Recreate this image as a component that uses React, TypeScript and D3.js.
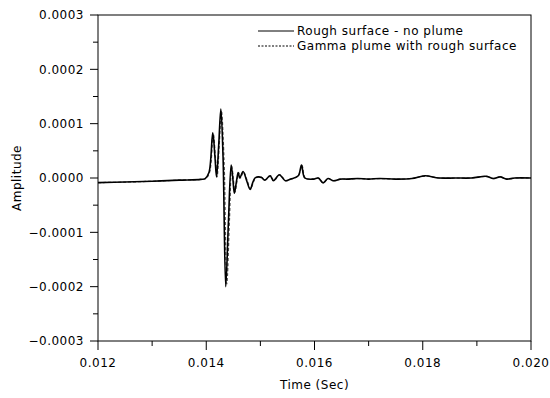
import React from "react";
import * as d3 from "d3";

// Solid series: Rough surface - no plume
const timeRough = [
  0.012, 0.0125, 0.013, 0.0135, 0.0139, 0.01398, 0.01405, 0.01412, 0.01416, 0.01419,
  0.01423, 0.01427, 0.01431, 0.01436, 0.01441, 0.01446, 0.01449, 0.01452, 0.01456, 0.01459,
  0.01462, 0.01468, 0.01475, 0.01481, 0.01486, 0.0149, 0.01496, 0.01502, 0.01508, 0.01518,
  0.01524, 0.01535, 0.01546, 0.01556, 0.0157, 0.01576, 0.01582, 0.01598, 0.01607, 0.01616,
  0.01625, 0.01635, 0.01648, 0.0166, 0.0168, 0.017, 0.0172, 0.0175, 0.0178, 0.01804,
  0.0183, 0.0186, 0.0189, 0.01918, 0.0193, 0.01943, 0.01955, 0.0197, 0.02,
];
const ampRough = [
  -0.0000085, -0.0000075, -0.000006, -0.000004, -0.0000025, -0.000001, 0.00001, 0.000083, 0.00004, 0.000002,
  0.00006, 0.000127, 0.00004, -0.0002, -0.00008, 0.000024, 0.0, -0.000028, -0.000005, 0.00001,
  0.0, 0.000012, -0.000006, -0.000021, -0.000008, 0.0, 0.000002, 0.000001, -0.000004, 0.000004,
  -0.000005, 0.000006, -0.000005, -0.000002, 0.000004, 0.000024, 0.0, -0.000002, 0.0, -0.000009,
  -0.000001, -0.000005, -0.000002, -0.000002, -0.000001, -0.000002, -0.000001, -0.000002, -0.000001, 0.000004,
  0.0, 0.0, 0.0, 0.000003, -0.000001, 0.000002, -0.000002, 0.0, 0.0,
];

// Dashed series: Gamma plume with rough surface
const timeGamma = [
  0.012, 0.0125, 0.013, 0.0135, 0.0139, 0.01399, 0.01406, 0.01413, 0.01417, 0.0142,
  0.01424, 0.01428, 0.01433, 0.01438, 0.01443, 0.01447, 0.0145, 0.01453, 0.01457, 0.0146,
  0.01463, 0.01469, 0.01476, 0.01482, 0.01487, 0.01491, 0.01497, 0.01503, 0.01509, 0.01519,
  0.01525, 0.01536, 0.01547, 0.01557, 0.0157, 0.01577, 0.01583, 0.01598, 0.01607, 0.01616,
  0.01625, 0.01635, 0.01648, 0.0166, 0.0168, 0.017, 0.0172, 0.0175, 0.0178, 0.01804,
  0.0183, 0.0186, 0.0189, 0.01918, 0.0193, 0.01943, 0.01955, 0.0197, 0.02,
];
const ampGamma = [
  -0.0000085, -0.0000075, -0.000006, -0.000004, -0.0000025, -0.000001, 0.00001, 0.000081, 0.000038, 0.000002,
  0.00006, 0.000124, 0.00003, -0.000195, -0.000075, 0.000022, 0.0, -0.000026, -0.000005, 0.00001,
  0.0, 0.000011, -0.000006, -0.00002, -0.000008, 0.0, 0.000002, 0.000001, -0.000004, 0.000004,
  -0.000005, 0.000006, -0.000005, -0.000002, 0.000004, 0.000023, 0.0, -0.000002, 0.0, -0.000009,
  -0.000001, -0.000005, -0.000002, -0.000002, -0.000001, -0.000002, -0.000001, -0.000002, -0.000001, 0.000004,
  0.0, 0.0, 0.0, 0.000003, -0.000001, 0.000002, -0.000002, 0.0, 0.0,
];

const xMajorTicks = [0.012, 0.014, 0.016, 0.018, 0.02];
const xMinorTicks = [0.013, 0.015, 0.017, 0.019];
const yMajorTicks = [-0.0003, -0.0002, -0.0001, 0, 0.0001, 0.0002, 0.0003];
const yMinorTicks = [-0.00025, -0.00015, -0.00005, 0.00005, 0.00015, 0.00025];
const seriesNames = ["Rough surface - no plume", "Gamma plume with rough surface"];

const W = 550;
const H = 398;
const left = 98;
const right = 531;
const top = 15;
const bottom = 341;
const FONT = "'DejaVu Sans', Verdana, sans-serif";
const LS = 0.5;

export default function App() {
  const x = d3.scaleLinear().domain([0.012, 0.02]).range([left, right]);
  const y = d3.scaleLinear().domain([-0.0003, 0.0003]).range([bottom, top]);
  const line = d3
    .line<[number, number]>()
    .x((d) => x(d[0]))
    .y((d) => y(d[1]))
    .curve(d3.curveCatmullRom.alpha(0.5));
  const rough = timeRough.map((t, i) => [t, ampRough[i]] as [number, number]);
  const gamma = timeGamma.map((t, i) => [t, ampGamma[i]] as [number, number]);
  const fmtY = (v: number) => (Math.abs(v) < 1e-12 ? "0.0000" : d3.format(".4f")(v));
  const fmtX = d3.format(".3f");

  return (
    <svg
      width={W}
      height={H}
      style={{ position: "absolute", left: 0, top: 0, background: "#fff" }}
      fontFamily={FONT}
    >
      <rect x={0} y={0} width={W} height={H} fill="#fff" />
      {/* frame */}
      <rect x={left} y={top} width={right - left} height={bottom - top} fill="none" stroke="#000" strokeWidth={1} />
      {/* y ticks */}
      {yMajorTicks.map((v) => (
        <g key={"ym" + v}>
          <line x1={left - 8} x2={left} y1={y(v)} y2={y(v)} stroke="#000" />
          <text x={left - 14} y={y(v)} dy="0.35em" textAnchor="end" fontSize={12} letterSpacing={LS} fill="#000">
            {fmtY(v)}
          </text>
        </g>
      ))}
      {yMinorTicks.map((v) => (
        <line key={"yn" + v} x1={left - 5} x2={left} y1={y(v)} y2={y(v)} stroke="#000" />
      ))}
      {/* x ticks */}
      {xMajorTicks.map((v) => (
        <g key={"xm" + v}>
          <line x1={x(v)} x2={x(v)} y1={bottom} y2={bottom + 9} stroke="#000" />
          <text x={x(v)} y={367} textAnchor="middle" fontSize={12} letterSpacing={LS} fill="#000">
            {fmtX(v)}
          </text>
        </g>
      ))}
      {xMinorTicks.map((v) => (
        <line key={"xn" + v} x1={x(v)} x2={x(v)} y1={bottom} y2={bottom + 5} stroke="#000" />
      ))}
      {/* axis titles */}
      <text x={(left + right) / 2} y={389} textAnchor="middle" fontSize={12} letterSpacing={LS} fill="#000">
        Time (Sec)
      </text>
      <text
        transform={`translate(21,${(top + bottom) / 2}) rotate(-90)`}
        textAnchor="middle"
        fontSize={12}
        letterSpacing={LS}
        fill="#000"
      >
        Amplitude
      </text>
      {/* series */}
      <path d={line(gamma) ?? ""} fill="none" stroke="#555" strokeWidth={1.2} strokeDasharray="3,2" />
      <path d={line(rough) ?? ""} fill="none" stroke="#000" strokeWidth={1.6} />
      {/* legend */}
      <line x1={258} x2={294} y1={31} y2={31} stroke="#000" strokeWidth={1} />
      <text x={297} y={35} fontSize={12} letterSpacing={LS} fill="#000">
        {seriesNames[0]}
      </text>
      <line x1={258} x2={294} y1={46} y2={46} stroke="#000" strokeWidth={1} strokeDasharray="2,1.5" />
      <text x={297} y={50} fontSize={12} letterSpacing={LS} fill="#000">
        {seriesNames[1]}
      </text>
    </svg>
  );
}
